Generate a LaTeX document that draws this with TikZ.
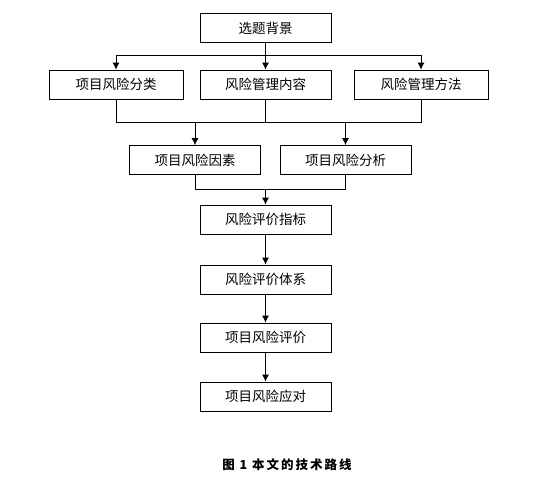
\documentclass[tikz,border=0pt]{standalone}
\usepackage{fontspec}
\usepackage{tikz}
\usetikzlibrary{arrows.meta}
\newfontfamily\cjk{Noto Sans CJK SC}
\newfontfamily\capcjk[LetterSpace=16]{Noto Sans CJK SC}

\tikzset{
  box/.style={draw, line width=0.8pt, minimum width=131pt, minimum height=29pt,
    inner sep=0pt, font=\cjk\fontsize{13.5pt}{15pt}\selectfont},
  widebox/.style={box, minimum width=134pt},
  link/.style={line width=0.8pt},
  arr/.style={link, ->, >={Latex[length=7pt,width=7pt]}}
}

\begin{document}
\begin{tikzpicture}[x=1pt,y=-1pt]
\useasboundingbox (0,0) rectangle (549,483);
\node[box] (bg) at (265.5,28) {选题背景};
\node[widebox] (fl) at (116,84.5) {项目风险分类};
\node[box] (nr) at (265.5,84.5) {风险管理内容};
\node[widebox] (ff) at (421,84.5) {风险管理方法};
\node[box] (ys) at (195,160) {项目风险因素};
\node[box] (fx) at (345.5,160) {项目风险分析};
\node[box] (zb) at (265.5,219.5) {风险评价指标};
\node[box] (tx) at (265.5,279.5) {风险评价体系};
\node[box] (pj) at (265.5,337.5) {项目风险评价};
\node[box] (yd) at (265.5,396.5) {项目风险应对};
\node[font=\capcjk\bfseries\fontsize{12.5pt}{14pt}\selectfont] (cap) at (287,465) {图 1 本文的技术路线};
% first split
\coordinate (m1) at (265.5,55);
\draw [link](bg)--(m1);
\draw [arr](m1)-|(fl);
\draw [arr](m1)--(nr);
\draw [arr](m1)-|(ff);
% merge and split
\coordinate (m2) at (265.5,122);
\draw [link](fl)|-(m2);
\draw [link](ff)|-(m2);
\draw [link](nr)--(m2);
\draw [arr](m2-|ys.north)--(ys);
\draw [arr](m2-|fx.north)--(fx);
% merge
\coordinate (m3) at (265.5,189);
\draw [link](ys)|-(m3);
\draw [link](fx)|-(m3);
\draw [arr](m3)--(zb);
% chain
\draw [arr](zb)--(tx);
\draw [arr](tx)--(pj);
\draw [arr](pj)--(yd);
\end{tikzpicture}
\end{document}
